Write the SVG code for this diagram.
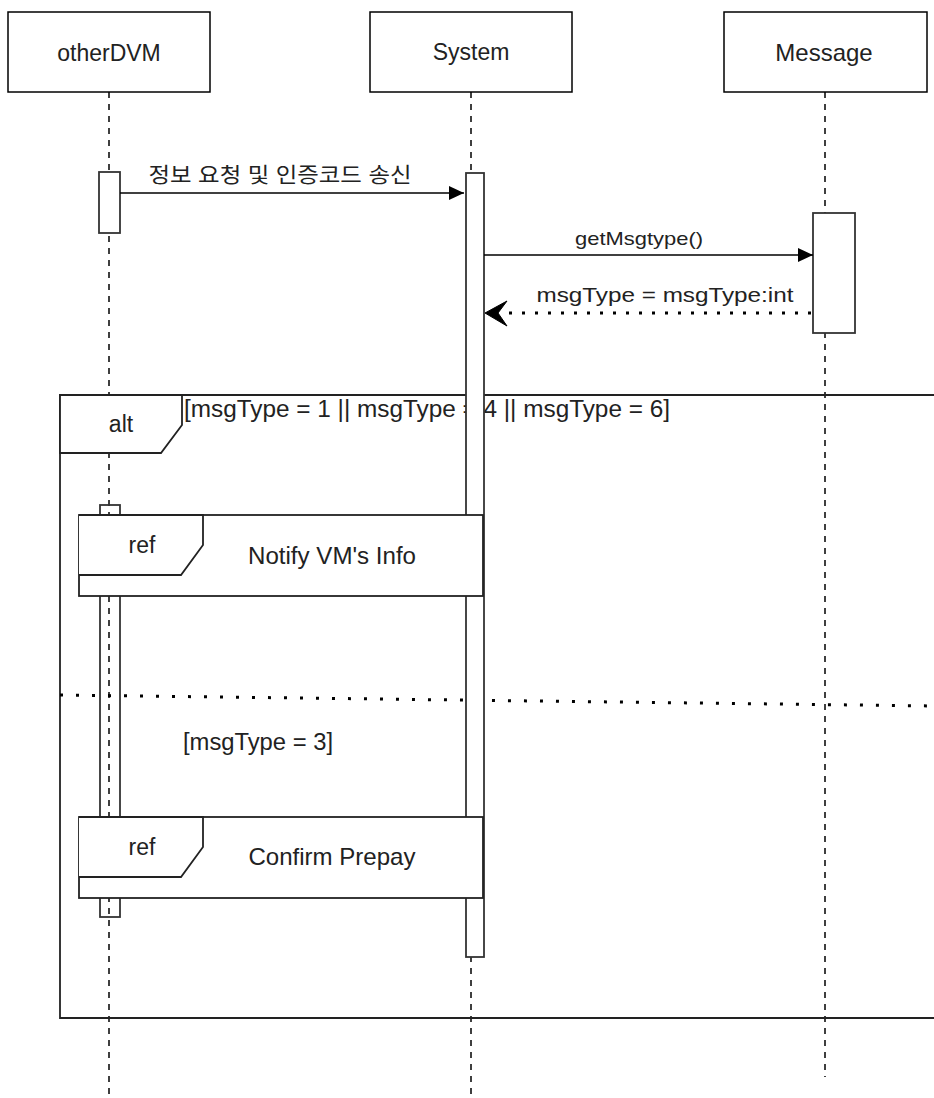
<svg xmlns="http://www.w3.org/2000/svg" width="934" height="1098" viewBox="0 0 934 1098">
<defs>
<style>
.box{fill:#fff;stroke:#000;stroke-width:1.5}
.life{fill:none;stroke:#000;stroke-width:1.5;stroke-dasharray:6 6}
.act{fill:#fff;stroke:#333;stroke-width:1.8}
.actn{fill:none;stroke:#333;stroke-width:1.8}
.frame{fill:none;stroke:#222;stroke-width:1.8}
.tab{fill:#fff;stroke:#222;stroke-width:1.8}
.t{font-family:"Liberation Sans",Arial,"Noto Sans CJK KR",sans-serif;fill:#222}
.c{text-anchor:middle}
.msg{fill:none;stroke:#000;stroke-width:1.5}
.dot{fill:none;stroke:#000;stroke-width:3;stroke-dasharray:3 10}
</style>
<marker id="block" viewBox="0 0 15 14" refX="15" refY="7" markerWidth="15" markerHeight="14" markerUnits="userSpaceOnUse" orient="auto">
<path d="M0,0 L15,7 L0,14 Z" fill="#000"/>
</marker>
</defs>
<rect width="934" height="1098" fill="#fff"/>

<g id="lifelines">
<line class="life" x1="109" y1="92" x2="109" y2="1098"/>
<line class="life" x1="471" y1="92" x2="471" y2="1098"/>
<line class="life" x1="825" y1="92" x2="825" y2="1077" stroke="#555"/>
</g>

<g id="alt-frame">
<path class="frame" d="M944,395 H60 V1018 H944"/>
<line x1="60" y1="695" x2="934" y2="706" stroke="#000" stroke-width="3" stroke-dasharray="3 13"/>
<path class="tab" d="M60,395 H182 V425 L161,453 H60 Z"/>
<text class="t c" x="121" y="432" font-size="23">alt</text>
<text class="t" x="184" y="417" font-size="23" textLength="486" lengthAdjust="spacingAndGlyphs">[msgType = 1 || msgType = 4 || msgType = 6]</text>
<text class="t" x="183" y="750" font-size="23" textLength="150" lengthAdjust="spacingAndGlyphs">[msgType = 3]</text>
</g>

<g id="activations">
<rect class="act" x="99" y="172" width="21" height="61"/>
<rect class="actn" x="100" y="505" width="20" height="412"/>
<rect class="act" x="466" y="173" width="18" height="784"/>
<rect class="act" x="813" y="213" width="42" height="120"/>
</g>

<g id="ref-notify">
<rect class="tab" x="79" y="515" width="404" height="81"/>
<path class="tab" d="M79,515 H203 V545 L181,575 H79"/>
<text class="t c" x="142" y="553" font-size="23">ref</text>
<text class="t c" x="332" y="564" font-size="23" textLength="168" lengthAdjust="spacingAndGlyphs">Notify VM's Info</text>
</g>

<g id="ref-confirm">
<rect class="tab" x="79" y="817" width="404" height="81"/>
<path class="tab" d="M79,817 H203 V847 L181,877 H79"/>
<text class="t c" x="142" y="855" font-size="23">ref</text>
<text class="t c" x="332" y="865" font-size="24" textLength="167" lengthAdjust="spacingAndGlyphs">Confirm Prepay</text>
</g>

<g id="connectors">
<line class="msg" x1="120" y1="193" x2="464" y2="193" marker-end="url(#block)"/>
<text class="t c" x="280" y="182" font-size="21" textLength="263" lengthAdjust="spacingAndGlyphs">정보 요청 및 인증코드 송신</text>
<line class="msg" x1="484" y1="255" x2="813" y2="255" marker-end="url(#block)"/>
<text class="t c" x="639" y="245" font-size="19" textLength="128" lengthAdjust="spacingAndGlyphs">getMsgtype()</text>
<line class="dot" x1="811" y1="313" x2="500" y2="313"/>
<path d="M485,313 L507,301 L498,313 L507,326 Z" fill="#000" stroke="#000" stroke-width="1"/>
<text class="t c" x="665" y="302" font-size="20" textLength="257" lengthAdjust="spacingAndGlyphs">msgType = msgType:int</text>
</g>

<g id="head-otherDVM">
<rect class="box" x="8" y="12" width="202" height="80"/>
<text class="t c" x="109" y="61" font-size="23">otherDVM</text>
</g>
<g id="head-System">
<rect class="box" x="370" y="12" width="202" height="80"/>
<text class="t c" x="471" y="60" font-size="23">System</text>
</g>
<g id="head-Message">
<rect class="box" x="724" y="12" width="203" height="80" stroke="#444"/>
<text class="t c" x="824" y="61" font-size="24">Message</text>
</g>
</svg>
